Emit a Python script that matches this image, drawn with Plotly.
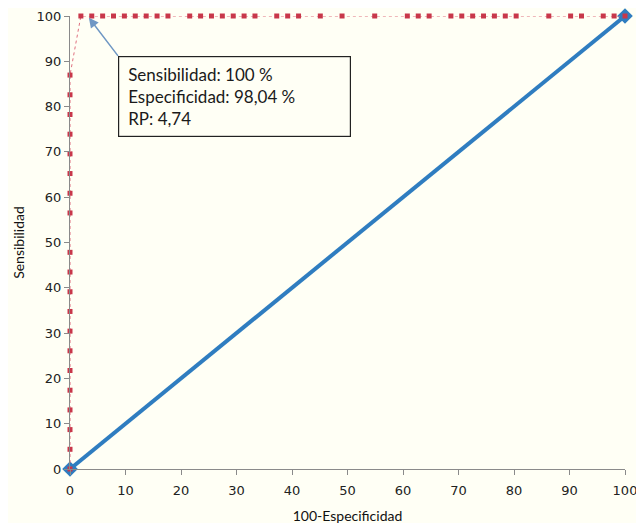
import plotly.graph_objects as go

# ROC curve points (100-Especificidad, Sensibilidad)
roc_x = [0, 0, 0, 0, 0, 0, 0, 0, 0, 0, 0, 0, 0, 0, 0, 0, 0, 0, 0, 0,
         1.96, 3.92, 5.88, 7.84, 9.80, 11.76, 13.73, 15.69, 17.65,
         21.57, 23.53, 25.49, 27.45, 29.41, 31.37, 33.33,
         37.25, 39.22, 41.18, 45.10, 49.02, 54.90, 60.78, 62.75, 64.71,
         68.63, 70.59, 72.55, 74.51, 76.47, 78.43, 80.39,
         86.27, 90.20, 92.16, 96.08, 98.04, 100]
roc_y = [0, 4.35, 8.70, 13.04, 17.39, 21.74, 26.09, 30.43, 34.78, 39.13,
         43.48, 47.83, 56.52, 60.87, 65.22, 69.57, 73.91, 78.26, 82.61, 86.96,
         100, 100, 100, 100, 100, 100, 100, 100, 100,
         100, 100, 100, 100, 100, 100, 100,
         100, 100, 100, 100, 100, 100, 100, 100, 100,
         100, 100, 100, 100, 100, 100, 100,
         100, 100, 100, 100, 100, 100]

# Reference diagonal
ref_x = [0, 100]
ref_y = [0, 100]

tick_vals = [0, 10, 20, 30, 40, 50, 60, 70, 80, 90, 100]

annot_text = "Sensibilidad: 100 %<br>Especificidad: 98,04 %<br>RP: 4,74"

fig = go.Figure()
fig.add_trace(go.Scatter(
    x=ref_x, y=ref_y, mode="lines+markers",
    line=dict(color="#2f7dc0", width=4),
    marker=dict(symbol="diamond", size=12, color="#2f7dc0"),
    cliponaxis=False, showlegend=False, hoverinfo="skip"))
fig.add_trace(go.Scatter(
    x=roc_x, y=roc_y, mode="lines+markers",
    line=dict(color="#e07080", width=1, dash="dot"),
    marker=dict(symbol="square", size=5, color="#c8374a"),
    cliponaxis=False, showlegend=False, hoverinfo="skip"))

axis_common = dict(
    range=[0, 100], tickvals=tick_vals, showgrid=False, zeroline=False,
    showline=True, linecolor="#8a8a8a", linewidth=1,
    ticks="outside", ticklen=5, tickcolor="#8a8a8a", automargin=False,
    tickfont=dict(family="DejaVu Sans", size=13, color="#222222"),
)

fig.update_xaxes(**axis_common, ticklabelstandoff=4,
                 title=dict(text="100-Especificidad", standoff=14,
                            font=dict(family="Lato", size=14, color="#111111")))
fig.update_yaxes(**axis_common,
                 title=dict(text="Sensibilidad", standoff=8,
                            font=dict(family="Lato", size=14, color="#111111")))

fig.add_annotation(
    x=3.4, y=99.6, xref="x", yref="y",
    ax=8.65, ay=91.2, axref="x", ayref="y",
    text=annot_text, showarrow=True, arrowhead=2, arrowsize=1.3,
    arrowwidth=1.5, arrowcolor="#6f97c4",
    xanchor="left", yanchor="top", align="left", valign="middle",
    bordercolor="#222222", borderwidth=1.2, borderpad=9,
    bgcolor="#fffff5", width=213, height=61,
    font=dict(family="Lato", size=17, color="#1a1a1a"))

fig.update_layout(
    width=644, height=523,
    margin=dict(l=62, r=27, t=8, b=62),
    paper_bgcolor="#fffff5", plot_bgcolor="#fffff5",
)

fig.write_html("out.html")
